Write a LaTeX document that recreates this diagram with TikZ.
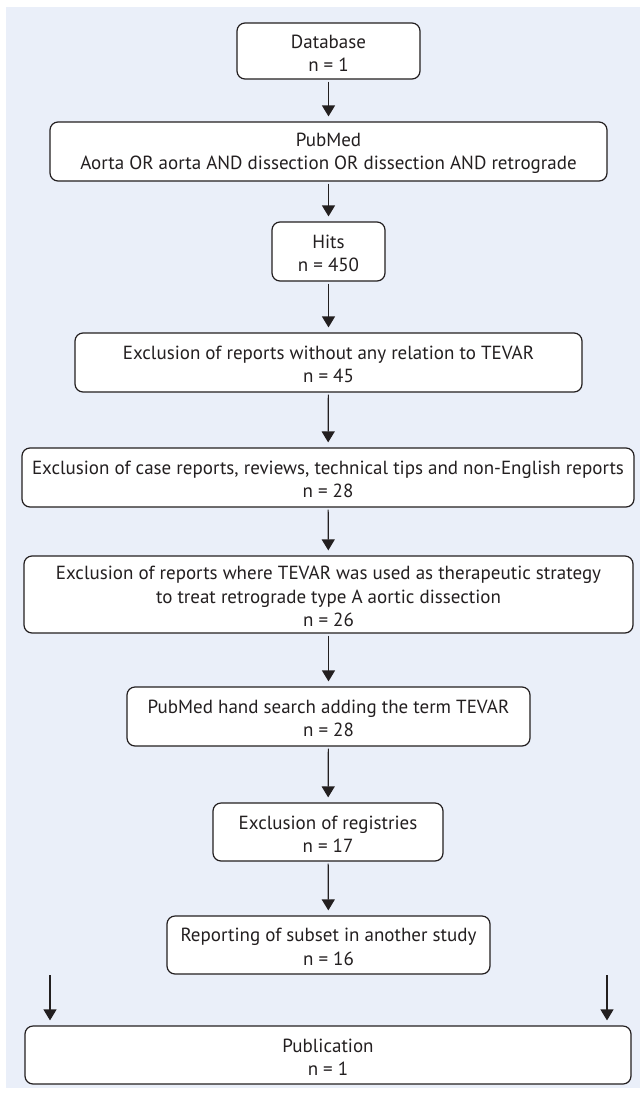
\documentclass[tikz,border=0pt]{standalone}
\usepackage{fontspec}
\setmainfont{PT Sans}
\usetikzlibrary{arrows.meta}
\definecolor{panelbg}{RGB}{234,239,249}
\definecolor{ink}{RGB}{35,31,32}
\begin{document}
\begin{tikzpicture}[x=1pt,y=-1pt,
  box/.style={draw=ink, line width=1.2pt, fill=white, rounded corners=8pt,
    inner sep=0pt, align=center, text=ink, text height=41pt,
    font=\fontsize{19}{23.5}\selectfont},
  tallbox/.style={box, text height=64.5pt},
  conn/.style={draw=ink, line width=1.2pt,
    -{Triangle[width=13pt,length=11pt]}, shorten <=2pt, shorten >=5pt}]
\useasboundingbox (0,0) rectangle (640,1093);
\fill[panelbg] (6,7) rectangle (640,1088);

\node[box, minimum width=183pt, minimum height=56pt] (db) at (328.5,51) {Database\\n = 1};
\node[box, minimum width=557pt, minimum height=59pt] (pm) at (328.5,151.5) {PubMed\\Aorta OR aorta AND dissection OR dissection AND retrograde};
\node[box, minimum width=113pt, minimum height=59pt] (hits) at (328.5,251.5) {Hits\\n = 450};
\node[box, minimum width=507pt, minimum height=59pt] (exa) at (328.5,362.5) {Exclusion of reports without any relation to TEVAR\\n = 45};
\node[box, minimum width=612pt, minimum height=59pt] (exb) at (328,477.5) {Exclusion of case reports, reviews, technical tips and non-English reports\\n = 28};
\node[tallbox, minimum width=609pt, minimum height=77pt] (exc) at (328.5,594.5) {Exclusion of reports where TEVAR was used as therapeutic strategy\\to treat retrograde type A aortic dissection\\n = 26};
\node[box, minimum width=403pt, minimum height=59pt] (hand) at (328.5,716.5) {PubMed hand search adding the term TEVAR\\n = 28};
\node[box, minimum width=230pt, minimum height=58pt] (reg) at (328,832) {Exclusion of registries\\n = 17};
\node[box, minimum width=323pt, minimum height=58pt] (sub) at (328.5,945) {Reporting of subset in another study\\n = 16};
\node[box, minimum width=606pt, minimum height=58pt] (pub) at (328,1055) {Publication\\n = 1};

\draw[conn] (db) -- (pm);
\draw[conn] (pm) -- (hits);
\draw[conn] (hits) -- (exa);
\draw[conn] (exa) -- (exb);
\draw[conn] (exb) -- (exc);
\draw[conn] (exc) -- (hand);
\draw[conn] (hand) -- (reg);
\draw[conn] (reg) -- (sub);

\coordinate (la) at (50,975);
\coordinate (lb) at (607,975);
\draw[conn, shorten <=0pt] (la) -- (la |- pub.north);
\draw[conn, shorten <=0pt] (lb) -- (lb |- pub.north);
\end{tikzpicture}
\end{document}
